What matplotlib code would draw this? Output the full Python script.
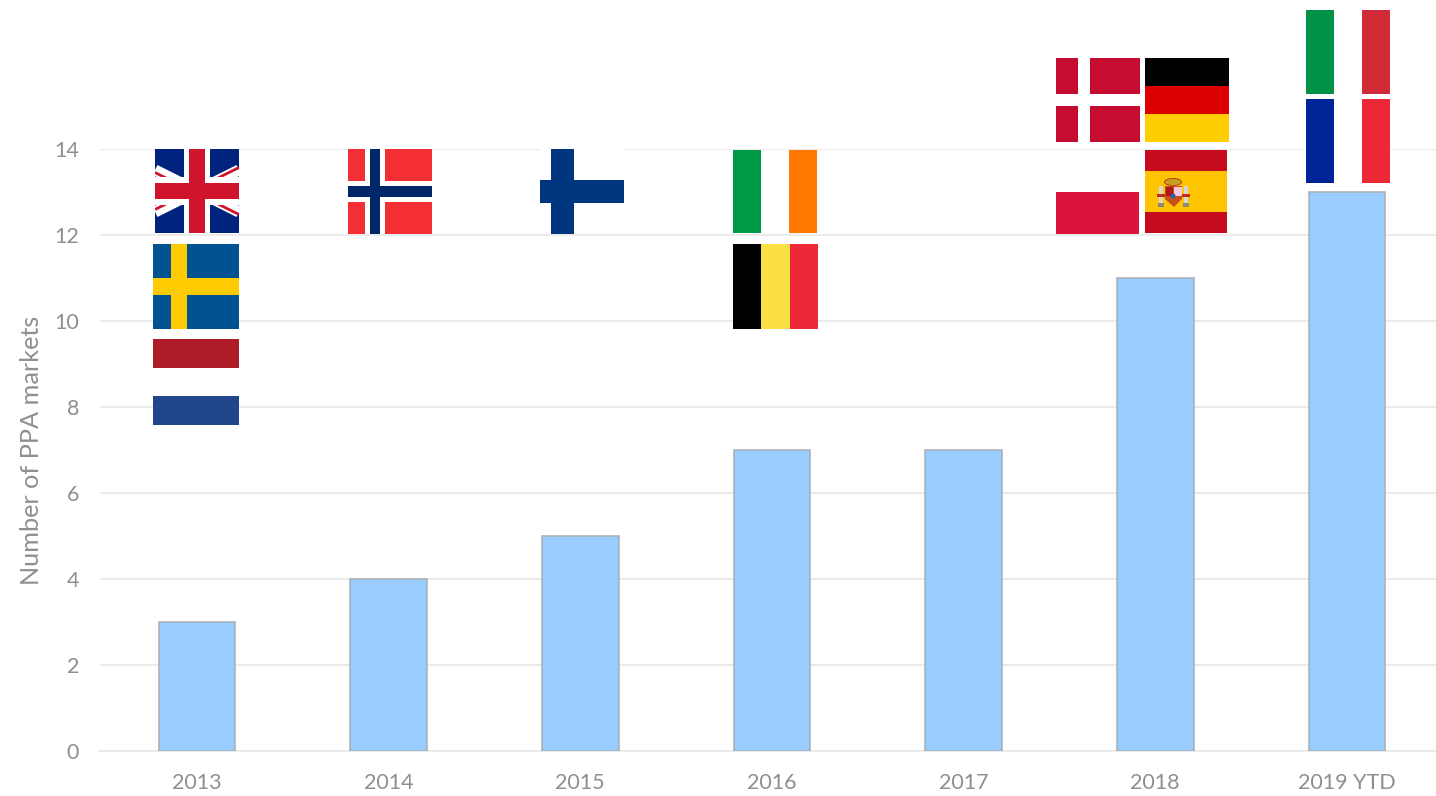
import matplotlib
matplotlib.use("Agg")
import matplotlib.pyplot as plt
from matplotlib.patches import Rectangle, Polygon, Ellipse

years = ["2013", "2014", "2015", "2016", "2017", "2018", "2019 YTD"]
markets = [3, 4, 5, 7, 7, 11, 13]
y_ticks = [0, 2, 4, 6, 8, 10, 12, 14]
y_label = "Number of PPA markets"

W, H = 1436, 796
TEXT = "#8f8f8f"
GRID = "#e9e9e9"


def hstripes(ov, box, colors, cuts=None):
    """Stripes from top to bottom, box = x0, y0, x1, y1 in pixels"""
    x0, y0, x1, y1 = box
    n = len(colors)
    cuts = cuts or [i / n for i in range(n + 1)]
    for i, c in enumerate(colors):
        top = y0 + (y1 - y0) * cuts[i]
        bot = y0 + (y1 - y0) * cuts[i + 1]
        ov.add_patch(Rectangle((x0, top), x1 - x0, bot - top, fc=c, lw=0))


def vstripes(ov, box, colors):
    x0, y0, x1, y1 = box
    n = len(colors)
    for i, c in enumerate(colors):
        w = (x1 - x0) / n
        ov.add_patch(Rectangle((x0 + i * w, y0), w, y1 - y0, fc=c, lw=0))


def cross(ov, box, color, vert, horiz):
    """Nordic cross, vert and horiz are fractions of the flag box"""
    x0, y0, x1, y1 = box
    w, h = x1 - x0, y1 - y0
    ov.add_patch(Rectangle((x0 + vert[0] * w, y0), (vert[1] - vert[0]) * w, h,
                           fc=color, lw=0, zorder=3))
    ov.add_patch(Rectangle((x0, y0 + horiz[0] * h), w, (horiz[1] - horiz[0]) * h,
                           fc=color, lw=0, zorder=3))


def uk_flag(ov, box):
    x0, y0, x1, y1 = box
    w, h = x1 - x0, y1 - y0
    cx, cy = x0 + w / 2, y0 + h / 2
    bg = Rectangle((x0, y0), w, h, fc="#00247d", lw=0)
    ov.add_patch(bg)
    # the flag is a centre crop of a 2:1 flag, so the diagonals are shallow
    dx, dy = w / 2, w / 4
    for sign in (1, -1):
        line, = ov.plot([cx - dx, cx + dx], [cy - sign * dy, cy + sign * dy],
                        color="white", lw=8, solid_capstyle="butt", zorder=2)
        line.set_clip_path(bg)
    red = [(-1, -1, 2.5), (1, 1, 2.5), (1, -1, -2.5), (-1, 1, -2.5)]
    for sx, sy, off in red:
        line, = ov.plot([cx, cx + sx * dx], [cy + off, cy + sy * dy + off],
                        color="#cf142b", lw=2, solid_capstyle="butt", zorder=2)
        line.set_clip_path(bg)
    cross(ov, box, "white", (0.34, 0.655), (0.335, 0.665))
    # red goes over the white bands
    x, y = x0 + 0.40 * w, y0 + 0.41 * h
    ov.add_patch(Rectangle((x, y0), 0.195 * w, h, fc="#cf142b", lw=0, zorder=4))
    ov.add_patch(Rectangle((x0, y), w, 0.19 * h, fc="#cf142b", lw=0, zorder=4))


def spain_flag(ov, box):
    x0, y0, x1, y1 = box
    hstripes(ov, box, ["#c60b1e", "#ffc400", "#c60b1e"], [0, 0.25, 0.75, 1])
    # small coat of arms
    ov.add_patch(Ellipse((1173, 182), 17, 7, fc="#c8a020", ec="#ad1519", lw=0.5))
    ov.add_patch(Polygon([(1165, 186), (1182, 186), (1182, 199), (1174, 207),
                          (1165, 199)], fc="#c8501a", lw=0))
    ov.add_patch(Rectangle((1174, 187), 8, 9, fc="#f2c8d8", lw=0))
    ov.add_patch(Rectangle((1166, 187), 7, 9, fc="#ad1519", lw=0))
    ov.add_patch(Ellipse((1173, 196), 5, 5, fc="#2a5fa8", lw=0))
    for px in (1161, 1186):
        ov.add_patch(Rectangle((px - 2, 186), 4, 20, fc="#d8d8d0", lw=0))
        ov.add_patch(Rectangle((px - 3, 203), 6, 4, fc="#8a8a70", lw=0))
        ov.add_patch(Rectangle((px - 4, 194), 8, 3, fc="#c02a20", lw=0))


def draw_flags(fig):
    """Flags sit on top of the chart, drawn in picture pixels"""
    ov = fig.add_axes([0, 0, 1, 1], zorder=5)
    ov.set_xlim(0, W)
    ov.set_ylim(H, 0)
    ov.axis("off")

    uk_flag(ov, (155, 149, 239, 233))

    box = (348, 149, 432, 234)
    ov.add_patch(Rectangle(box[:2], 84, 85, fc="#f32f33", lw=0))
    cross(ov, box, "white", (0.20, 0.44), (0.38, 0.62))
    # blue cross has to sit above the white one
    ov.add_patch(Rectangle((348 + 0.26 * 84, 149), 0.12 * 84, 85, fc="#002868",
                           lw=0, zorder=4))
    ov.add_patch(Rectangle((348, 149 + 0.44 * 85), 84, 0.13 * 85, fc="#002868",
                           lw=0, zorder=4))

    box = (153, 244, 239, 329)
    ov.add_patch(Rectangle(box[:2], 86, 85, fc="#005293", lw=0))
    cross(ov, box, "#fecb00", (0.205, 0.40), (0.40, 0.60))

    hstripes(ov, (153, 339, 239, 425), ["#ae1c28", "white", "#21468b"])

    box = (540, 149, 624, 234)
    ov.add_patch(Rectangle(box[:2], 84, 85, fc="white", lw=0))
    cross(ov, box, "#003580", (0.13, 0.40), (0.36, 0.63))

    vstripes(ov, (733, 150, 817, 233), ["#009b48", "white", "#ff7900"])
    vstripes(ov, (733, 244, 818, 329), ["black", "#fae042", "#ed2939"])

    box = (1056, 58, 1140, 142)
    ov.add_patch(Rectangle(box[:2], 84, 84, fc="#c60c30", lw=0))
    cross(ov, box, "white", (0.265, 0.40), (0.43, 0.57))

    hstripes(ov, (1145, 58, 1229, 142), ["black", "#dd0000", "#ffce00"])
    hstripes(ov, (1056, 150, 1139, 234), ["white", "#dc143c"])
    spain_flag(ov, (1145, 150, 1227, 233))

    vstripes(ov, (1306, 10, 1390, 94), ["#009246", "white", "#ce2b37"])
    vstripes(ov, (1306, 99, 1390, 183), ["#002395", "white", "#ed2939"])


def main():
    plt.rcParams["font.family"] = ["Lato", "DejaVu Sans"]
    fig = plt.figure(figsize=(W / 100, H / 100), dpi=100)
    ax = fig.add_axes([100 / W, 1 - 751 / H, (W - 100) / W, (751 - 149) / H])

    xs = list(range(len(years)))
    ax.bar(xs, markets, width=0.4, color="#99ccff", edgecolor="#a8aeb4",
           linewidth=1.1, zorder=3)

    ax.set_xlim(-0.506, 6.465)
    ax.set_ylim(0, 14)
    ax.set_xticks(xs, years)
    ax.set_yticks(y_ticks)
    ax.grid(axis="y", color=GRID, linewidth=1.3, zorder=0)
    ax.set_axisbelow(True)
    for side in ("top", "right", "left"):
        ax.spines[side].set_visible(False)
    ax.spines["bottom"].set_color(GRID)
    ax.spines["bottom"].set_linewidth(1.3)
    ax.tick_params(axis="x", length=0, pad=16, labelsize=15.5, labelcolor=TEXT)
    ax.tick_params(axis="y", length=0, pad=15, labelsize=15.5, labelcolor=TEXT)
    ax.set_ylabel(y_label, fontsize=18.2, color=TEXT, labelpad=8, y=0.5)

    draw_flags(fig)
    fig.savefig("out.png", dpi=100, facecolor="white")


if __name__ == "__main__":
    main()
